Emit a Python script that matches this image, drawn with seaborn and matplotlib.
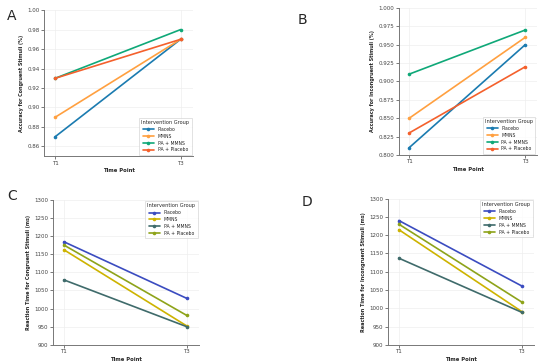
import numpy as np
import pandas as pd
import matplotlib
matplotlib.use("Agg")
import matplotlib.pyplot as plt
import seaborn as sns
from matplotlib.ticker import FormatStrFormatter

# ---- data ----
groups = ["Placebo", "MMNS", "PA + MMNS", "PA + Placebo"]
time_points = ["T1", "T3"]

acc_congruent = {
    "Placebo": [0.87, 0.97],
    "MMNS": [0.89, 0.97],
    "PA + MMNS": [0.93, 0.98],
    "PA + Placebo": [0.93, 0.97],
}
acc_incongruent = {
    "Placebo": [0.81, 0.95],
    "MMNS": [0.85, 0.96],
    "PA + MMNS": [0.91, 0.97],
    "PA + Placebo": [0.83, 0.92],
}
rt_congruent = {
    "Placebo": [1184, 1028],
    "MMNS": [1162, 952],
    "PA + MMNS": [1079, 950],
    "PA + Placebo": [1175, 981],
}
rt_incongruent = {
    "Placebo": [1240, 1061],
    "MMNS": [1215, 991],
    "PA + MMNS": [1137, 989],
    "PA + Placebo": [1230, 1017],
}

pal_acc = {"Placebo": "#1b7bb0", "MMNS": "#ffa040",
           "PA + MMNS": "#0fa878", "PA + Placebo": "#f4602c"}
pal_rt = {"Placebo": "#3b4cc0", "MMNS": "#cdb300",
          "PA + MMNS": "#3f6b6b", "PA + Placebo": "#8ea31a"}


def to_df(d):
    rows = []
    for g in groups:
        for t, v in zip(time_points, d[g]):
            rows.append({"Time Point": t, "Value": v, "Intervention Group": g})
    return pd.DataFrame(rows)


sns.set_theme(style="whitegrid")
plt.rcParams["font.family"] = ["DejaVu Sans"]

fig = plt.figure(figsize=(5.5, 3.63), dpi=100)

panels = [
    ("A", acc_congruent, pal_acc, [0.080, 0.570, 0.271, 0.402],
     "Accuracy for Congruent Stimuli (%)", (0.85, 1.00), np.arange(0.86, 1.001, 0.02), "%.2f", "lower right", (0.013, 0.955)),
    ("B", acc_incongruent, pal_acc, [0.725, 0.573, 0.251, 0.405],
     "Accuracy for Incongruent Stimuli (%)", (0.80, 1.00), np.arange(0.80, 1.001, 0.025), "%.3f", "lower right", (0.542, 0.945)),
    ("C", rt_congruent, pal_rt, [0.096, 0.050, 0.266, 0.400],
     "Reaction Time for Congruent Stimuli (ms)", (900, 1300), np.arange(900, 1301, 50), "%d", "upper right", (0.013, 0.46)),
    ("D", rt_incongruent, pal_rt, [0.705, 0.050, 0.266, 0.403],
     "Reaction Time for Incongruent Stimuli (ms)", (900, 1300), np.arange(900, 1301, 50), "%d", "upper right", (0.548, 0.443)),
]

for letter, data, pal, rect, ylab, ylim, yt, fmt, loc, lpos in panels:
    ax = fig.add_axes(rect)
    df = to_df(data)
    sns.lineplot(data=df, x="Time Point", y="Value", hue="Intervention Group",
                 hue_order=groups, palette=pal, marker="o", markersize=2.6,
                 markeredgewidth=0, linewidth=1.2, ax=ax)
    ax.set_xlim(-0.09, 1.1)
    ax.set_ylim(*ylim)
    ax.set_yticks(yt)
    ax.yaxis.set_major_formatter(FormatStrFormatter(fmt))
    ax.set_ylabel(ylab, fontsize=3.5, fontweight="bold", labelpad=2.5)
    ax.set_xlabel("Time Point", fontsize=3.8, fontweight="bold", labelpad=2)
    ax.tick_params(axis="both", labelsize=4.0, length=2, width=0.5, pad=1.2,
                   colors="#444444", left=True, bottom=True)
    ax.grid(True, color="#eeeeee", linewidth=0.5)
    for s in ["top", "right"]:
        ax.spines[s].set_visible(False)
    for s in ["left", "bottom"]:
        ax.spines[s].set_color("#777777")
        ax.spines[s].set_linewidth(0.7)
    leg = ax.legend(title="Intervention Group", loc=loc, fontsize=3.3,
                    title_fontsize=3.6, frameon=True, fancybox=False,
                    borderpad=0.5, labelspacing=0.4, handlelength=2.4,
                    borderaxespad=0.3)
    leg.get_frame().set_edgecolor("#cccccc")
    leg.get_frame().set_linewidth(0.5)
    fig.text(lpos[0], lpos[1], letter, fontsize=10, ha="left", va="center")

fig.savefig("out.png", dpi=100)
